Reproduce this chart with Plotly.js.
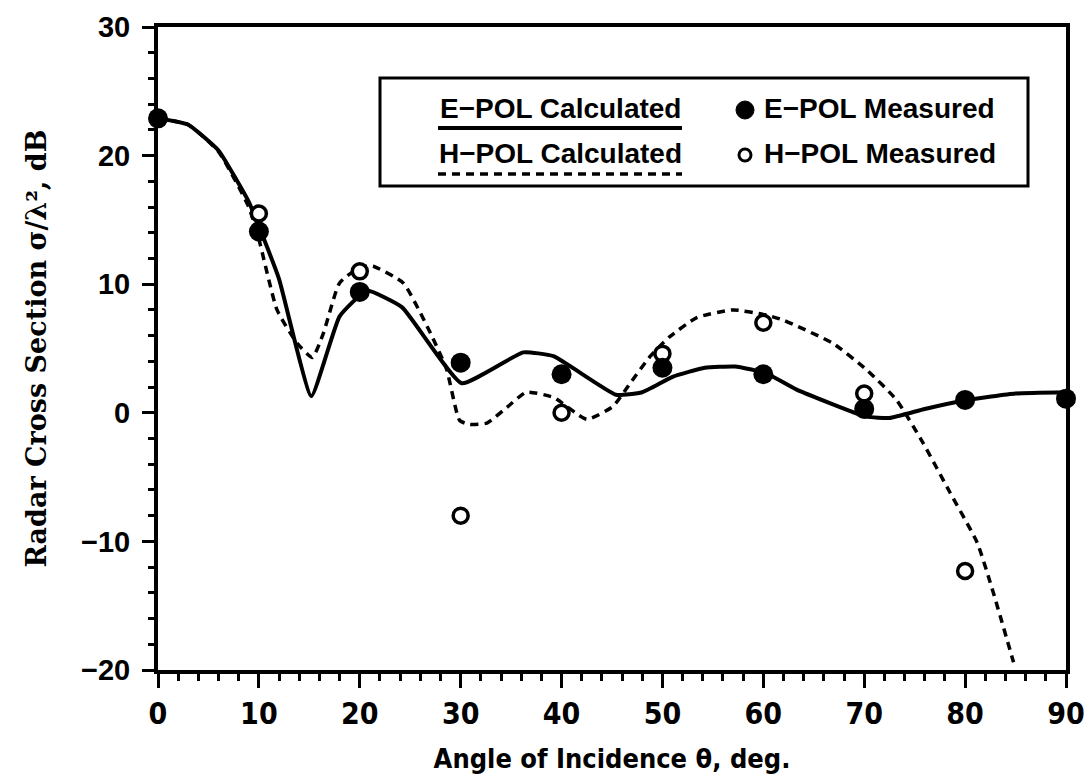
<!DOCTYPE html>
<html>
<head>
<meta charset="utf-8">
<script src="https://cdn.plot.ly/plotly-3.0.1.min.js"></script>
<style>html,body{margin:0;padding:0;background:#fff;}#chart{width:1090px;height:782px;}</style>
</head>
<body>
<div id="chart"></div>
<script>
// E-POL calculated (solid line)
const eCalcX = [0, 3, 6, 9, 10, 12, 15.2, 18, 20.7, 24.2, 30.1, 36.2, 39.2, 45.4, 48, 51, 54.2, 57.2, 60.2, 63.3, 70.2, 72.5, 76, 80.2, 85, 90];
const eCalcY = [22.9, 22.4, 20.4, 16.4, 14.5, 10.4, 1.3, 7.5, 9.5, 8.2, 2.3, 4.7, 4.4, 1.4, 1.6, 2.8, 3.5, 3.6, 3.1, 1.8, -0.3, -0.4, 0.3, 1.0, 1.5, 1.6];
// H-POL calculated (dashed line)
const hCalcX = [0, 3, 6, 9, 10, 11.8, 13.8, 15.3, 16.4, 18, 20, 21.3, 24.3, 27, 28.6, 29.9, 30.9, 32.6, 34.7, 36.5, 39.2, 42.5, 45.1, 46.8, 48.8, 50.7, 53.4, 57, 60.3, 62, 66.9, 70.3, 73.2, 75.8, 78.5, 81.2, 82.8, 84.8];
const hCalcY = [22.9, 22.4, 20.3, 16.0, 13.5, 8.0, 5.4, 4.3, 6.2, 10.1, 11.3, 11.4, 10.1, 6.2, 3.4, -0.6, -0.9, -0.8, 0.5, 1.6, 1.2, -0.5, 0.5, 2.3, 4.4, 5.9, 7.4, 8.0, 7.6, 7.2, 5.4, 3.3, 1.0, -2.3, -6.2, -10.1, -14.0, -19.4];
// Measured points
const eMeasX = [0, 10, 20, 30, 40, 50, 60, 70, 80, 90];
const eMeasY = [22.9, 14.1, 9.4, 3.9, 3.0, 3.5, 3.0, 0.3, 1.0, 1.1];
const hMeasX = [10, 20, 30, 40, 50, 60, 70, 80];
const hMeasY = [15.5, 11.0, -8.0, 0.0, 4.6, 7.0, 1.5, -12.3];

const xTickVals = [0, 10, 20, 30, 40, 50, 60, 70, 80, 90];
const yTickVals = [-20, -10, 0, 10, 20, 30];
const legendLabels = ["E\u2212POL Calculated", "H\u2212POL Calculated", "E\u2212POL Measured", "H\u2212POL Measured"];

const bold = "Liberation Sans, Arial, sans-serif";
const narrow = "Liberation Sans Narrow, DejaVu Sans Condensed, Liberation Sans, Arial, sans-serif";

const traces = [
  {x: eCalcX, y: eCalcY, mode: 'lines', type: 'scatter', line: {color: '#000', width: 4, shape: 'spline', smoothing: 0.4}, cliponaxis: false, showlegend: false},
  {x: hCalcX, y: hCalcY, mode: 'lines', type: 'scatter', line: {color: '#000', width: 3.5, dash: '8px,6px', shape: 'spline', smoothing: 0.5}, cliponaxis: false, showlegend: false},
  {x: hMeasX, y: hMeasY, mode: 'markers', type: 'scatter', marker: {symbol: 'circle', size: 15, color: '#fff', line: {color: '#000', width: 3.5}}, cliponaxis: false, showlegend: false},
  {x: eMeasX, y: eMeasY, mode: 'markers', type: 'scatter', marker: {symbol: 'circle', size: 20, color: '#000', line: {width: 0}}, cliponaxis: false, showlegend: false}
];

function px2x(px){ return (px - 158) / 908; }
function py2y(py){ return (670 - py) / 643; }

const legFont = {family: bold, size: 28, color: '#000', weight: 'bold'};

const layout = {
  width: 1090, height: 782,
  margin: {l: 158, r: 24, t: 27, b: 112},
  paper_bgcolor: '#fff', plot_bgcolor: '#fff',
  showlegend: false,
  xaxis: {
    range: [0, 90], tickvals: xTickVals, ticktext: xTickVals.map(String),
    ticks: 'outside', ticklen: 14, tickwidth: 3, tickcolor: '#000',
    minor: {dtick: 2, ticks: 'outside', ticklen: 7, tickwidth: 3, tickcolor: '#000'},
    showline: true, linewidth: 4, linecolor: '#000', mirror: true,
    showgrid: false, zeroline: false,
    tickfont: {family: narrow, size: 30, color: '#000', weight: 'bold'},
    title: {text: 'Angle of Incidence \u03b8, deg.', font: {family: narrow, size: 27, color: '#000', weight: 'bold'}, standoff: 20}
  },
  yaxis: {
    range: [-20, 30], tickvals: yTickVals, ticktext: yTickVals.map(v => v < 0 ? '\u2212' + Math.abs(v) : String(v)),
    ticks: 'outside', ticklen: 12, tickwidth: 3, tickcolor: '#000',
    minor: {dtick: 2, ticks: 'outside', ticklen: 6, tickwidth: 3, tickcolor: '#000'},
    showline: true, linewidth: 4, linecolor: '#000', mirror: true,
    showgrid: false, zeroline: false,
    ticklabelstandoff: 6,
    tickfont: {family: bold, size: 29, color: '#000', weight: 'bold'},
    title: {text: 'Radar Cross Section \u03c3/\u03bb\u00b2, dB', font: {family: 'DejaVu Serif, Liberation Serif, serif', size: 27, color: '#000', weight: 'bold'}, standoff: 28}
  },
  shapes: [
    {type: 'rect', xref: 'paper', yref: 'paper', x0: px2x(380), x1: px2x(1028), y0: py2y(186), y1: py2y(78), line: {color: '#000', width: 3}, fillcolor: 'rgba(0,0,0,0)'},
    {type: 'line', xref: 'paper', yref: 'paper', x0: px2x(438), x1: px2x(682), y0: py2y(128), y1: py2y(128), line: {color: '#000', width: 4}},
    {type: 'line', xref: 'paper', yref: 'paper', x0: px2x(438), x1: px2x(682), y0: py2y(174), y1: py2y(174), line: {color: '#000', width: 3.5, dash: '8px,6px'}},
    {type: 'circle', xref: 'paper', yref: 'paper', xsizemode: 'pixel', ysizemode: 'pixel', xanchor: px2x(745), yanchor: py2y(110), x0: -9, x1: 9, y0: -9, y1: 9, fillcolor: '#000', line: {color: '#000', width: 1}},
    {type: 'circle', xref: 'paper', yref: 'paper', xsizemode: 'pixel', ysizemode: 'pixel', xanchor: px2x(745), yanchor: py2y(155), x0: -6, x1: 6, y0: -6, y1: 6, fillcolor: '#fff', line: {color: '#000', width: 3}}
  ],
  annotations: [
    {xref: 'paper', yref: 'paper', x: px2x(560), y: py2y(108), text: legendLabels[0], showarrow: false, xanchor: 'center', yanchor: 'middle', font: legFont},
    {xref: 'paper', yref: 'paper', x: px2x(560), y: py2y(153), text: legendLabels[1], showarrow: false, xanchor: 'center', yanchor: 'middle', font: legFont},
    {xref: 'paper', yref: 'paper', x: px2x(762), y: py2y(109), text: legendLabels[2], showarrow: false, xanchor: 'left', yanchor: 'middle', font: legFont},
    {xref: 'paper', yref: 'paper', x: px2x(762), y: py2y(154), text: legendLabels[3], showarrow: false, xanchor: 'left', yanchor: 'middle', font: legFont}
  ]
};

Plotly.newPlot('chart', traces, layout, {staticPlot: true, displayModeBar: false});
</script>
</body>
</html>
